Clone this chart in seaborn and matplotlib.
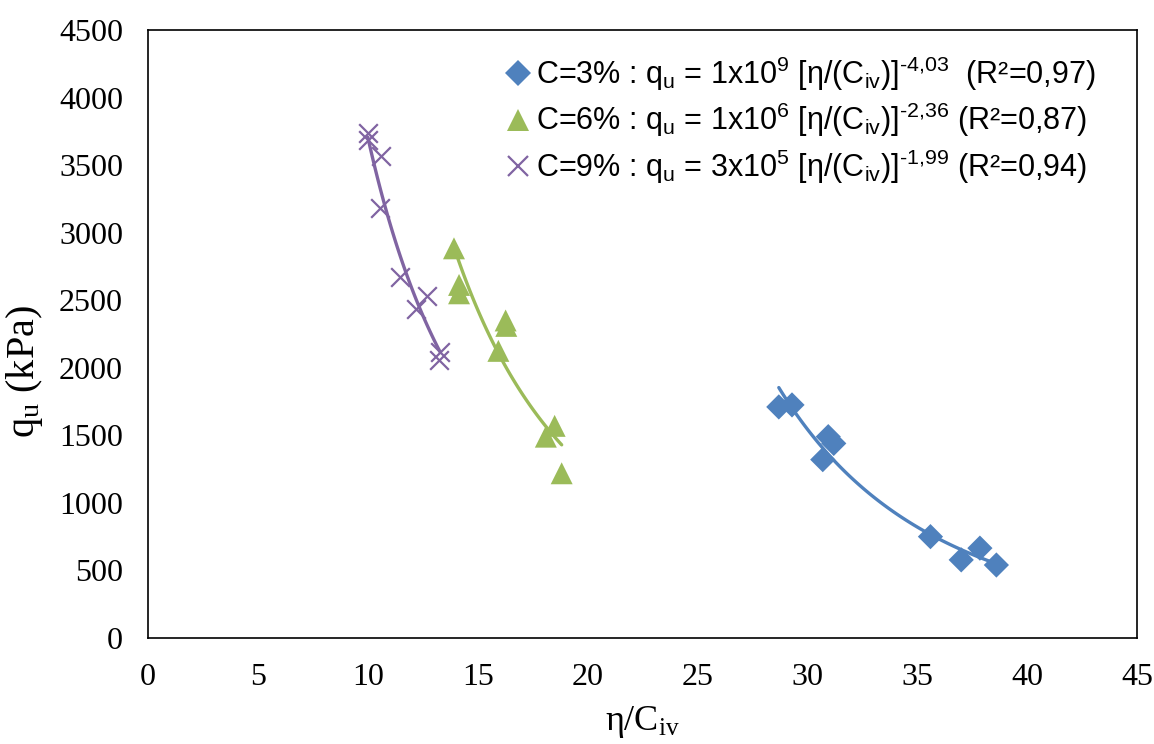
"""Unconfined compressive strength vs porosity/cement index, with power-law fits."""

import matplotlib
matplotlib.use("Agg")
import matplotlib.pyplot as plt
import numpy as np
import pandas as pd
import seaborn as sns
from matplotlib.lines import Line2D

# values
c3_x = [28.7, 29.3, 30.95, 31.2, 30.7, 35.6, 37.85, 37.0, 38.6]
c3_y = [1710, 1725, 1490, 1440, 1320, 750, 665, 578, 540]

c6_x = [13.92, 14.15, 14.15, 16.27, 16.3, 15.94, 18.5, 18.1, 18.82]
c6_y = [2884, 2613, 2551, 2350, 2310, 2125, 1570, 1490, 1219]

c9_x = [10.0, 10.0, 10.6, 10.56, 11.46, 12.71, 12.19, 13.28, 13.24]
c9_y = [3735, 3685, 3565, 3181, 2674, 2534, 2433, 2119, 2058]

groups = ["C=3%", "C=6%", "C=9%"]
legend_labels = [
    r"C=3% : q$_\mathregular{u}$ = 1x10$^\mathregular{9}$ [η/(C$_\mathregular{iv}$)]$^\mathregular{‐4{,}03}$  (R²=0,97)",
    r"C=6% : q$_\mathregular{u}$ = 1x10$^\mathregular{6}$ [η/(C$_\mathregular{iv}$)]$^\mathregular{‐2{,}36}$ (R²=0,87)",
    r"C=9% : q$_\mathregular{u}$ = 3x10$^\mathregular{5}$ [η/(C$_\mathregular{iv}$)]$^\mathregular{‐1{,}99}$ (R²=0,94)",
]
colors = {"C=3%": "#4F81BD", "C=6%": "#9BBB59", "C=9%": "#8064A2"}
markers = {"C=3%": "D", "C=6%": "^", "C=9%": "x"}
x_ticks = list(range(0, 46, 5))
y_ticks = list(range(0, 4501, 500))

df = pd.DataFrame({
    "eta_civ": c3_x + c6_x + c9_x,
    "qu": c3_y + c6_y + c9_y,
    "group": ["C=3%"] * len(c3_x) + ["C=6%"] * len(c6_x) + ["C=9%"] * len(c9_x),
})

sns.set_style("white")
plt.rcParams["font.family"] = ["Liberation Serif", "DejaVu Serif"]
plt.rcParams["mathtext.default"] = "regular"
plt.rcParams["text.color"] = "black"
plt.rcParams["axes.labelcolor"] = "black"
plt.rcParams["xtick.color"] = "black"
plt.rcParams["ytick.color"] = "black"

fig = plt.figure(figsize=(11.54, 7.44), dpi=100)
ax = fig.add_axes([0.1283, 0.1425, 0.857, 0.8172])

sizes = {"C=3%": 165, "C=6%": 250, "C=9%": 180}
for g in groups:
    sub = df[df["group"] == g]
    sns.scatterplot(
        data=sub, x="eta_civ", y="qu", ax=ax, color=colors[g], marker=markers[g],
        s=sizes[g], linewidth=1.6 if g == "C=9%" else 0, edgecolor=None if g == "C=9%" else "none",
        legend=False, zorder=2,
    )

# power-law trend lines (log-log least squares, like a spreadsheet trendline)
for g in groups:
    sub = df[df["group"] == g]
    b, log_a = np.polyfit(np.log(sub["eta_civ"]), np.log(sub["qu"]), 1)
    xs = np.linspace(sub["eta_civ"].min(), sub["eta_civ"].max(), 100)
    fit = pd.DataFrame({"x": xs, "y": np.exp(log_a) * xs ** b})
    sns.lineplot(data=fit, x="x", y="y", ax=ax, color=colors[g], linewidth=2.4,
                 zorder=3, legend=False)

ax.set_xlim(0, 45)
ax.set_ylim(0, 4500)
ax.set_xticks(x_ticks)
ax.set_yticks(y_ticks)
ax.tick_params(axis="both", length=0, labelsize=23, pad=18)
for side in ax.spines.values():
    side.set_color("black")
    side.set_linewidth(1.2)

ax.set_xlabel(r"η/C$_\mathregular{iv}$", fontsize=26, labelpad=9)
ax.set_ylabel(r"q$_\mathregular{u}$ (kPa)", fontsize=29)
ax.yaxis.set_label_coords(-0.104, 0.4375)

handles = [
    Line2D([], [], linestyle="none", marker=markers[g], color=colors[g],
           markersize={"C=3%": 13, "C=6%": 16, "C=9%": 14}[g],
           markeredgewidth=1.6 if g == "C=9%" else 0)
    for g in groups
]
ax.legend(handles, legend_labels, loc="upper right", bbox_to_anchor=(0.977, 0.99),
          frameon=False, handlelength=0.6, handletextpad=0.3, labelspacing=0.27,
          borderaxespad=0.2, prop={"family": ["Liberation Sans", "DejaVu Sans"], "size": 22})

fig.savefig("out.png", dpi=100)
